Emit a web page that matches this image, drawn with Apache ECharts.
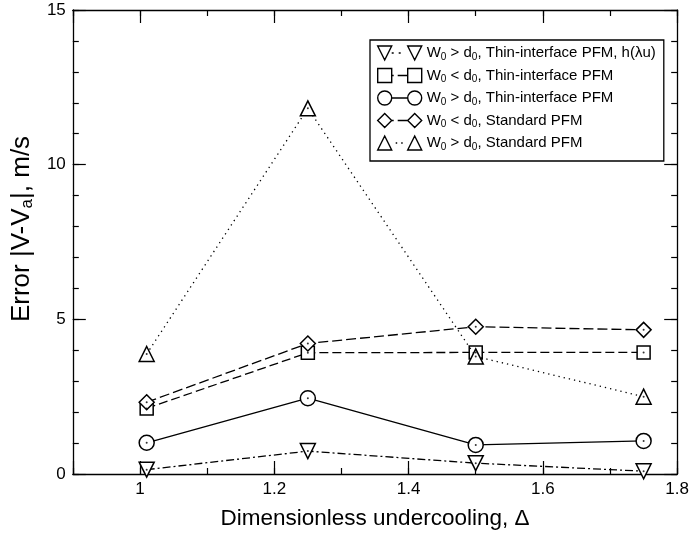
<!DOCTYPE html>
<html>
<head>
<meta charset="utf-8">
<script src="https://cdn.jsdelivr.net/npm/echarts@6/dist/echarts.min.js"></script>
<style>
  html, body { margin: 0; padding: 0; background: #fff; }
  #main { width: 692px; height: 536px; }
</style>
</head>
<body>
<div id="main"></div>
<script>
// undercooling values (the first point sits a hair right of the "1" tick)
const undercooling = [1.01, 1.25, 1.5, 1.75]

const seriesNames = [
    'W0 > d0, Thin-interface PFM, h(λu)',
    'W0 < d0, Thin-interface PFM',
    'W0 > d0, Thin-interface PFM',
    'W0 < d0, Standard PFM',
    'W0 > d0, Standard PFM'
]

const thinHLambda = [0.14, 0.74, 0.35, 0.09]
const thinSmallW = [2.12, 3.92, 3.93, 3.93]
const thinLargeW = [1.01, 2.45, 0.94, 1.07]
const stdSmallW = [2.32, 4.22, 4.76, 4.66]
const stdLargeW = [3.88, 11.82, 3.80, 2.50]

const FONT = '"Liberation Sans", Arial, sans-serif'

const pairs = (ys) => undercooling.map((x, i) => [x, ys[i]])

// legend glyphs: marker - line piece - marker, 44 x 14 box
const triDown = x => `M${x} 0 L${x + 14} 0 L${x + 7} 14 Z`
const triUp = x => `M${x + 7} 0 L${x + 14} 14 L${x} 14 Z`
const square = x => `M${x} 0 L${x + 14} 0 L${x + 14} 14 L${x} 14 Z`
const circle = x => `M${x} 7 A7 7 0 1 1 ${x + 14} 7 A7 7 0 1 1 ${x} 7 Z`
const diamond = x => `M${x + 7} 0 L${x + 14} 7 L${x + 7} 14 L${x} 7 Z`

const styles = [
    {data: thinHLambda, symbol: 'triangle', rotate: 180, dash: [8, 3, 2, 3],
        icon: triDown(0) + ' M14 7 L16 7 M21 7 L23 7 ' + triDown(30)},
    {data: thinSmallW, symbol: 'rect', rotate: 0, dash: [9, 4],
        icon: square(0) + ' M14 7 L16 7 M20 7 L30 7 ' + square(30)},
    {data: thinLargeW, symbol: 'circle', rotate: 0, dash: 'solid',
        icon: circle(0) + ' M14 7 L30 7 ' + circle(30)},
    {data: stdSmallW, symbol: 'diamond', rotate: 0, dash: [10, 4],
        icon: diamond(0) + ' M14 7 L16 7 M20 7 L30 7 ' + diamond(30)},
    {data: stdLargeW, symbol: 'triangle', rotate: 0, dash: [1.3, 4],
        icon: triUp(0) + ' M18 7 L19.5 7 M23.5 7 L25 7 ' + triUp(30)}
]

let series = []
styles.forEach((s, i) => {
    series.push({
        name: seriesNames[i],
        type: 'line',
        data: pairs(s.data),
        symbol: s.symbol,
        symbolSize: s.symbol === 'rect' ? 13 : 15,
        symbolRotate: s.rotate,
        showAllSymbol: true,
        lineStyle: {color: '#000', width: 1.3, type: s.dash},
        itemStyle: {color: '#fff', borderColor: '#000', borderWidth: 1.5},
        emphasis: {disabled: true},
        z: 2 + i
    })
})
// tiny dot in the middle of every marker
styles.forEach((s, i) => {
    series.push({
        name: 'dot' + i,
        type: 'scatter',
        data: pairs(s.data),
        symbol: 'circle',
        symbolSize: 2,
        itemStyle: {color: '#000'},
        silent: true,
        z: 20
    })
})

const lineAxis = {show: true, onZero: false, lineStyle: {color: '#000', width: 1.3}}
const hiddenLine = {show: false, onZero: false}
const tickStyle = {color: '#000', width: 1.2}

function xAxisPair(position) {
    let bottom = position === 'bottom'
    return [
        {
            type: 'value', position: position, min: 0.9, max: 1.8, interval: 0.1,
            splitLine: {show: false},
            axisLine: lineAxis,
            axisTick: {inside: true, length: 6, lineStyle: tickStyle},
            axisLabel: bottom ? {
                show: true, margin: 7, color: '#000', fontSize: 17, fontFamily: FONT,
                formatter: v => {
                    let t = Math.round(v * 10)
                    return (t % 2 === 0 && t >= 10) ? String(t / 10) : ''
                }
            } : {show: false},
            name: bottom ? 'Dimensionless undercooling, Δ' : '',
            nameLocation: 'middle',
            nameGap: 33,
            nameTextStyle: {color: '#000', fontSize: 22.5, fontFamily: FONT}
        },
        // long ticks at 1, 1.2 ... 1.8: a reversed helper axis counted from the right edge
        {
            type: 'value', position: position, min: 0, max: 9, interval: 2, inverse: true,
            splitLine: {show: false},
            axisLine: hiddenLine,
            axisTick: {inside: true, length: 13, lineStyle: tickStyle},
            axisLabel: {show: false}
        }
    ]
}

function yAxisPair(position) {
    let left = position === 'left'
    return [
        {
            type: 'value', position: position, min: 0, max: 15, interval: 1,
            splitLine: {show: false},
            axisLine: lineAxis,
            axisTick: {inside: true, length: 6, lineStyle: tickStyle},
            axisLabel: left ? {
                show: true, margin: 7, color: '#000', fontSize: 17, fontFamily: FONT,
                formatter: v => (v % 5 === 0 ? String(v) : '')
            } : {show: false},
            name: left ? 'Error |V-V{s|a}|, m/s' : '',
            nameLocation: 'middle',
            nameGap: 32,
            nameTextStyle: {
                color: '#000', fontSize: 26, fontFamily: FONT, lineHeight: 28,
                padding: [0, 0, 0, 26],
                rich: {s: {fontSize: 17, fontFamily: FONT, lineHeight: 14, verticalAlign: 'bottom', color: '#000'}}
            }
        },
        {
            type: 'value', position: position, min: 0, max: 15, interval: 5,
            splitLine: {show: false},
            axisLine: hiddenLine,
            axisTick: {inside: true, length: 13, lineStyle: tickStyle},
            axisLabel: {show: false}
        }
    ]
}

const chart = echarts.init(document.getElementById('main'), null, {renderer: 'canvas'})

chart.setOption({
    backgroundColor: '#fff',
    animation: false,
    grid: {left: 72, right: 12, top: 10, bottom: 62, containLabel: false},
    xAxis: [].concat(xAxisPair('bottom'), xAxisPair('top')),
    yAxis: [].concat(yAxisPair('left'), yAxisPair('right')),
    legend: {
        data: seriesNames.map((n, i) => ({name: n, icon: 'path://' + styles[i].icon})),
        orient: 'vertical',
        left: 370,
        top: 40,
        padding: [4, 8, 9, 7],
        itemWidth: 44,
        itemHeight: 14,
        itemGap: 4.5,
        symbolKeepAspect: true,
        borderColor: '#000',
        borderWidth: 1.3,
        backgroundColor: '#fff',
        selectedMode: false,
        itemStyle: {color: '#fff', borderColor: '#000', borderWidth: 1.4, borderType: 'solid'},
        formatter: name => name.replace(/([Wd])0/g, '$1{s|0}'),
        textStyle: {
            color: '#000', fontSize: 15, fontFamily: FONT, lineHeight: 18,
            rich: {s: {fontSize: 10, fontFamily: FONT, lineHeight: 9, verticalAlign: 'bottom', color: '#000'}}
        }
    },
    series: series
})
</script>
</body>
</html>
